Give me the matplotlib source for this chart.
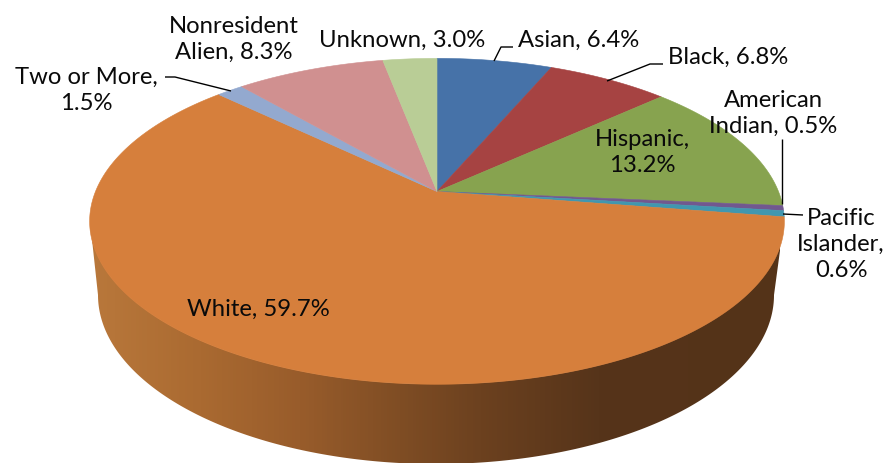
import numpy as np
import matplotlib
matplotlib.use("Agg")
import matplotlib.pyplot as plt
from matplotlib.patches import Polygon
from matplotlib.colors import LinearSegmentedColormap

categories = ["Asian", "Black", "Hispanic", "American Indian", "Pacific Islander",
              "White", "Two or More", "Nonresident Alien", "Unknown"]
values = [6.4, 6.8, 13.2, 0.5, 0.6, 59.7, 1.5, 8.3, 3.0]
colors = ["#4672A8", "#A64342", "#87A34F", "#71588F", "#4197AF",
          "#D67F3C", "#93A9CF", "#D09090", "#B9CD96"]
labels = ["Asian, 6.4%", "Black, 6.8%", "Hispanic,\n13.2%", "American\nIndian, 0.5%",
          "Pacific\nIslander,\n0.6%", "White, 59.7%", "Two or More,\n1.5%",
          "Nonresident\nAlien, 8.3%", "Unknown, 3.0%"]
label_pos = [(579, 40.5), (728, 57.5), (642, 152.5), (773, 113.5), (841, 244.5),
             (258, 309.5), (86, 90.5), (234, 39.5), (402, 40.5)]
leaders = [[(494, 62), (501, 48), (513, 48)],
           [(607, 82), (650, 65), (663, 65)],
           None,
           [(782, 205), (782, 140)],
           [(783, 215), (803, 216)],
           None,
           [(231, 92), (175, 78), (165, 78)],
           None, None]

plt.rcParams["font.family"] = ["Lato", "DejaVu Sans"]
fig = plt.figure(figsize=(8.89, 4.64), dpi=100)
ax = fig.add_axes([0, 0, 1, 1])
ax.set_xlim(0, 889)
ax.set_ylim(464, 0)
ax.axis("off")

CX, CY = 437, 192.5
S, K, C = 341.5, 157.5, -0.183


def project(theta):
    """Perspective projection of the unit-circle pie; theta clockwise from top."""
    x, y = np.sin(theta), -np.cos(theta)
    d = 1 + C * y
    return np.column_stack([CX + S * x / d, CY + K * y / d])


# side wall: straight between top rim and bottom rim
t = np.linspace(np.pi, 0, 300)
top_edge = np.column_stack([437 + 347 * np.cos(t), 222 + 163 * np.sin(t)])
bot_edge = np.column_stack([436 + 338 * np.cos(t[::-1]), 296 + 169 * np.sin(t[::-1])])
wall = Polygon(np.vstack([top_edge, bot_edge]), closed=True, fc="none", ec="none")
ax.add_patch(wall)
stops = [(90, "#B9783B"), (200, "#AA6A31"), (300, "#985C2B"), (400, "#7F4D24"),
         (480, "#6C411F"), (600, "#56341A"), (780, "#543318")]
cmap = LinearSegmentedColormap.from_list(
    "wall", [((x - 90) / 690, c) for x, c in stops])
grad = ax.imshow(np.linspace(0, 1, 690)[None, :], extent=(90, 780, 470, 200), cmap=cmap,
                 aspect="auto", zorder=1)
grad.set_clip_path(wall)
ax.set_xlim(0, 889)
ax.set_ylim(464, 0)

# top face slices
edges = np.cumsum([0] + values) / sum(values) * 2 * np.pi
for v0, v1, col in zip(edges[:-1], edges[1:], colors):
    arc = project(np.linspace(v0, v1, max(4, int((v1 - v0) * 120))))
    ax.add_patch(Polygon(np.vstack([[CX, CY], arc]), closed=True, fc=col, ec=col, lw=0.4, zorder=2))

for lab, pos, lead in zip(labels, label_pos, leaders):
    ax.text(pos[0], pos[1], lab, ha="center", va="center", fontsize=17.2,
            color="#0A0A0A", linespacing=1.3, zorder=4)
    if lead:
        xs, ys = zip(*lead)
        ax.plot(xs, ys, color="black", lw=1.0, zorder=3, solid_capstyle="butt")

fig.savefig("out.png", dpi=100)
